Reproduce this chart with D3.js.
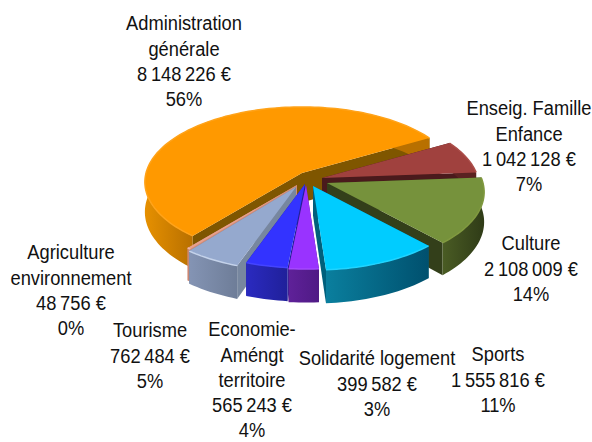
<!DOCTYPE html>
<html><head><meta charset="utf-8">
<script src="https://cdn.jsdelivr.net/npm/d3@7"></script>
<style>html,body{margin:0;background:#fff}svg{display:block}
text{font-family:"Liberation Sans",Arial,sans-serif;font-size:20px;fill:#111;text-anchor:middle;dominant-baseline:middle}</style>
</head><body><svg id="c" width="592" height="442"></svg>
<script>
// data, in pie order (clockwise)
const names = [["Enseig. Famille","Enfance"],["Culture"],["Sports"],["Solidarité logement"],["Economie-","Améngt","territoire"],["Tourisme"],["Agriculture","environnement"],["Administration","générale"]];
const values = [1042128,2108009,1555816,399582,565243,762484,48756,8148226];
// style
const topColors  = ["#A0413E","#76923C","#00CCFF","#9933FF","#3333FF","#95A9CE","#E8A08C","#FF9900"];
const rimColors  = ["#AC4E4A","#80993F","#20D4FF","#A548FF","#4444FF","#C4D2EA","#F0B8A8","#FFA31A"];
const wallLeft   = ["#6E2B2A","#4A5C24","#0A7F9E","#5F2199","#2A2AC0","#8494B4","#D08C78","#E69000"];
const wallRight  = ["#5A2221","#2F3B17","#00506E","#4F1A85","#20209A","#6E7D98","#B87868","#B87000"];
const faceColors = ["#4A1A1C","#333F1A","#00607C","#4F1A85","#20209A","#77879F","#D08C78","#7F5600"];
// layout: apex of each exploded slice, label centres
const apexes = [[322,178],[327,183],[313,186],[306,185],[305,184],[296,187],[297,185],[302,173]];
const labelPos = [[529,110],[531,245],[498,356],[377,360],[252,331],[150,332],[71,254],[184,25]];
const drawOrder = [7,0,1,6,5,4,2,3];
const RX=156, RY=74, PERSP=.12, DEPTH=29.5, LINE=25.3, SQUEEZE=.915;

const svg=d3.select("#c"), defs=svg.append("defs");
const arcs=d3.pie().sort(null).startAngle(Math.PI/3).endAngle(Math.PI/3+2*Math.PI)(values);
const total=d3.sum(values);
const fmt=d3.formatLocale({decimal:",",thousands:"\u2009",grouping:[3],currency:["","\u00a0€"]}).format(",d");
const line=d3.line();

function proj(i,th,down){
  const c=Math.cos(th), s=1/(1+PERSP*c);
  return [apexes[i][0]+RX*Math.sin(th)*s, apexes[i][1]-RY*c*s+(down?DEPTH*s:0)];
}
function apexPt(i,down){return [apexes[i][0],apexes[i][1]+(down?DEPTH:0)];}
function samples(a){const n=Math.max(2,Math.ceil((a.endAngle-a.startAngle)/.03));
  return d3.range(n+1).map(k=>a.startAngle+(a.endAngle-a.startAngle)*k/n);}

drawOrder.forEach(i=>{
  const a=arcs[i], th=samples(a), g=svg.append("g");
  const grad=defs.append("linearGradient").attr("id","w"+i).attr("gradientUnits","userSpaceOnUse");
  const xs=th.map(t=>proj(i,t,false)[0]).filter((x,k)=>Math.cos(th[k])<0.05);
  grad.attr("x1",d3.min(xs)||0).attr("x2",d3.max(xs)||1).attr("y1",0).attr("y2",0);
  grad.append("stop").attr("offset",0).attr("stop-color",wallLeft[i]);
  grad.append("stop").attr("offset",1).attr("stop-color",wallRight[i]);
  // cut faces, farthest first
  [a.startAngle,a.endAngle].sort((p,q)=>proj(i,p,false)[1]-proj(i,q,false)[1]).forEach(t=>{
    g.append("path").attr("fill",faceColors[i]).attr("d",line([apexPt(i,false),proj(i,t,false),proj(i,t,true),apexPt(i,true)])+"Z");
  });
  // outer wall
  const up=th.map(t=>proj(i,t,false)), dn=th.map(t=>proj(i,t,true)).reverse();
  g.append("path").attr("fill",`url(#w${i})`).attr("d",line(up.concat(dn))+"Z");
  // top
  g.append("path").attr("fill",topColors[i]).attr("d",line([apexPt(i,false)].concat(up))+"Z");
  g.append("path").attr("fill","none").attr("stroke",rimColors[i]).attr("stroke-width",1.5).attr("d",line(up));
});

names.forEach((nm,i)=>{
  const lines=nm.concat([fmt(values[i])+" €",Math.round(values[i]/total*100)+"%"]);
  svg.append("g").selectAll("text").data(lines).join("text")
    .attr("transform",(d,k)=>`translate(${labelPos[i][0]},${labelPos[i][1]+k*LINE}) scale(${SQUEEZE},1)`).text(d=>d);
});
</script></body></html>
